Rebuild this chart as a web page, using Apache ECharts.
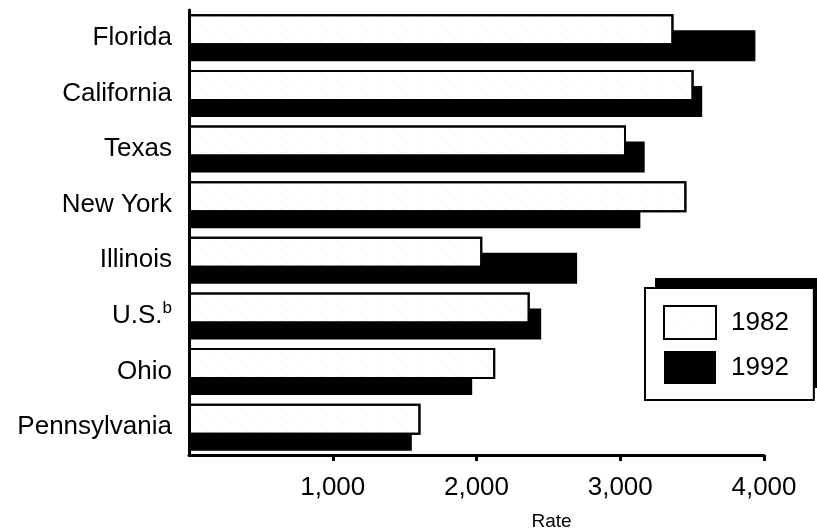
<!DOCTYPE html>
<html>
<head>
<meta charset="utf-8">
<script src="https://cdn.jsdelivr.net/npm/echarts@6/dist/echarts.min.js"></script>
<style>
html,body{margin:0;padding:0;background:#fff;}
#chart{width:817px;height:529px;}
</style>
</head>
<body>
<div id="chart"></div>
<script>
const categories = ['Florida', 'California', 'Texas', 'New York', 'Illinois', 'U.S.', 'Ohio', 'Pennsylvania'];
const footnoted = ['U.S.'];
const rate1982 = [3370, 3510, 3040, 3460, 2040, 2370, 2130, 1610];
const rate1992 = [3940, 3570, 3170, 3140, 2700, 2450, 1970, 1550];
const xTicks = [0, 1000, 2000, 3000, 4000];
const seriesNames = ['1982', '1992'];

const FONT = '"Liberation Sans", Arial, sans-serif';
const speckle = {
  symbol: 'rect', symbolSize: 0.6, color: 'rgba(0,0,0,0.45)',
  dashArrayX: [[1, 19], [1, 13]], dashArrayY: [1, 7], rotation: 0
};
const chart = echarts.init(document.getElementById('chart'), null, {renderer: 'canvas'});
chart.setOption({
  backgroundColor: '#fff',
  animation: false,
  textStyle: {fontFamily: FONT, color: '#000'},
  grid: {left: 189, right: 53, top: 10, bottom: 74, containLabel: false, outerBoundsMode: 'none'},
  graphic: [{
    type: 'rect', z: 0, silent: true,
    shape: {x: 655, y: 278, width: 170, height: 110},
    style: {fill: '#000'}
  }],
  legend: {
    data: seriesNames,
    selectedMode: false,
    orient: 'vertical',
    left: 645, top: 288, z: 10,
    icon: 'rect',
    itemWidth: 52, itemHeight: 33, itemGap: 11,
    padding: [17, 25, 16, 18],
    backgroundColor: '#fff',
    borderColor: '#000', borderWidth: 2,
    textStyle: {fontSize: 26, fontFamily: FONT, color: '#000', padding: [0, 0, 0, 10]}
  },
  xAxis: {
    type: 'value',
    min: xTicks[0], max: xTicks[xTicks.length - 1], interval: 1000,
    name: 'Rate', nameLocation: 'middle', nameGap: 57,
    nameTextStyle: {fontSize: 19, fontFamily: FONT, color: '#000', padding: [0, 0, 0, 150]},
    axisLine: {show: true, lineStyle: {color: '#000', width: 3}},
    axisTick: {show: true, length: 6, lineStyle: {color: '#000', width: 3}},
    splitLine: {show: false},
    axisLabel: {
      showMinLabel: false, margin: 20, fontSize: 26, fontFamily: FONT, color: '#000',
      formatter: v => v.toLocaleString('en-US')
    }
  },
  yAxis: {
    type: 'category', data: categories, inverse: true,
    axisLine: {show: true, lineStyle: {color: '#000', width: 3}},
    axisTick: {show: false},
    axisLabel: {
      margin: 17, fontSize: 26, fontFamily: FONT, color: '#000',
      formatter: v => footnoted.includes(v) ? v + '{sup|b}' : v,
      rich: {sup: {fontSize: 17, fontFamily: FONT, color: '#000', padding: [0, 0, 16, 0]}}
    }
  },
  series: [
    {
      name: seriesNames[0], type: 'bar', data: rate1982, z: 3,
      barWidth: 31, barGap: '-48%',
      itemStyle: {color: '#fff', borderColor: '#000', borderWidth: 2, decal: speckle}
    },
    {
      name: seriesNames[1], type: 'bar', data: rate1992, z: 2,
      barWidth: 31, barGap: '-48%',
      itemStyle: {color: '#000', borderColor: '#000', borderWidth: 0}
    }
  ]
});
</script>
</body>
</html>
